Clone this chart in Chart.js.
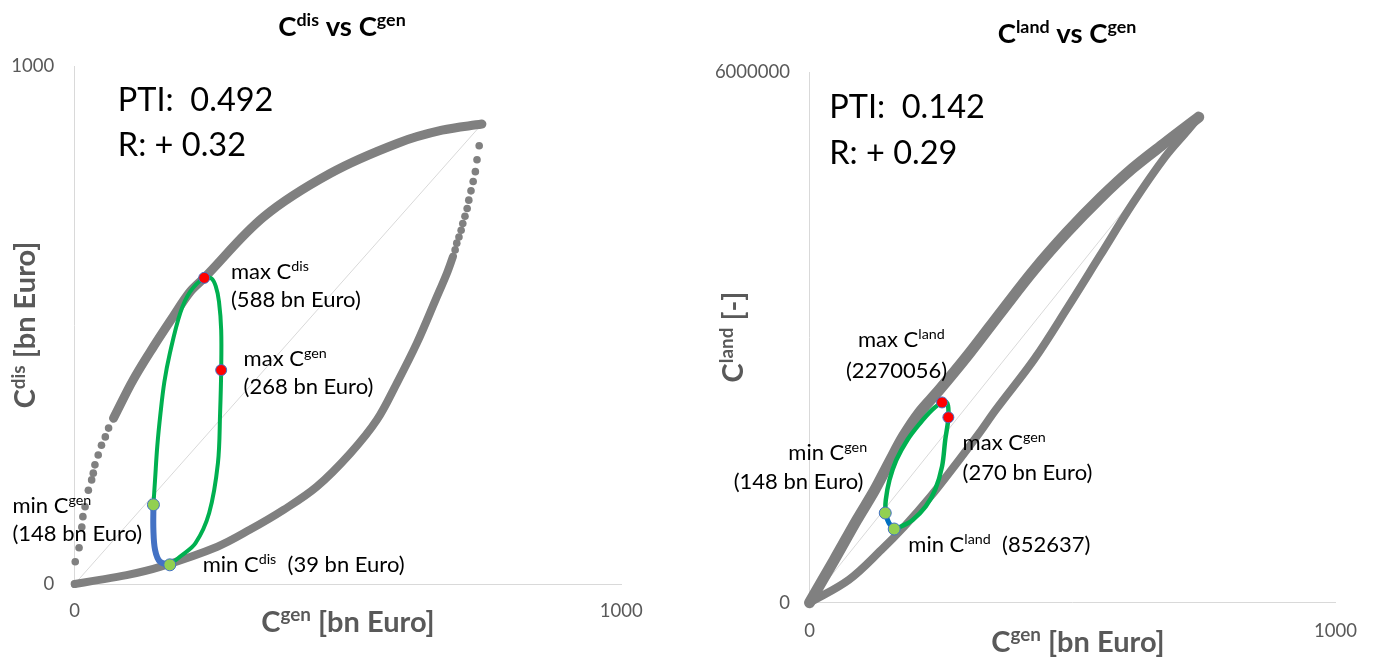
<!DOCTYPE html>
<html>
<head>
<meta charset="utf-8">
<script src="https://cdn.jsdelivr.net/npm/chart.js@4"></script>
<style>
  html, body { margin: 0; padding: 0; background: #fff; }
  #wrap { position: relative; width: 1374px; height: 658px; }
  canvas { position: absolute; top: 0; }
  #disChart { left: 0; }
  #landChart { left: 687px; }
</style>
</head>
<body>
<div id="wrap">
  <canvas id="disChart" width="687" height="658"></canvas>
  <canvas id="landChart" width="687" height="658"></canvas>
</div>
<script>
// tick labels
const genTicks = [0, 1000];
const disTicks = [0, 1000];
const landTicks = [0, 6000000];

// C_dis vs C_gen (both bn Euro)
const disUpperDots = [[0,0],[1,43],[8,70],[13,110],[15,130],[19,149],[25,181],[31,201],[34,214],[37,230],[43,249],[49,268],[56,284],[62,301],[71,320]];
const disUpperArc = [[71,320],[107,394],[144,458],[180,516],[211,564],[237,591],[346,709],[468,793],[591,851],[672,876],[745,888]];
const disLowerArc = [[0,0],[34,6],[95,17],[156,33],[261,72],[321,105],[382,143],[443,188],[504,252],[553,317],[589,387],[626,465],[660,548],[681,600],[692,632]];
const disLowerDots = [[696,645],[699,658],[703,670],[707,683],[710,696],[714,710],[718,725],[721,741],[725,759],[729,777],[733,796],[736,819],[740,846]];
const disDiag = [[0,0],[745,888]];
const disLoop = [[144,153],[147,201],[151,265],[157,330],[164,390],[174,445],[193,523],[211,564],[237,591],[250,590],[258,575],[264,545],[268,490],[268,413],[266,330],[262,233],[246,137],[221,79],[193,53],[174,37]];
const disTail = [[144,153],[144,104],[147,66],[156,43],[174,37]];
const disMax = [[237,591],[268,413]];
const disMin = [[144,153],[174,37]];

// C_land vs C_gen
const landUpperArc = [[0,0],[47,483000],[90,935000],[124,1274000],[152,1590000],[179,1885000],[209,2150000],[246,2400000],[304,2820000],[366,3300000],[428,3770000],[490,4190000],[552,4570000],[614,4910000],[676,5200000],[740,5490000]];
const landLowerArc = [[0,0],[75,260000],[137,600000],[180,860000],[230,1200000],[280,1580000],[323,1920000],[354,2180000],[428,2760000],[490,3330000],[552,3920000],[614,4510000],[676,5040000],[719,5340000],[740,5490000]];
const landDiag = [[0,0],[740,5490000]];
const landLoop = [[144,1014000],[145,1162000],[152,1387000],[165,1613000],[186,1840000],[210,2028000],[233,2180000],[252,2264000],[262,2254000],[264,2096000],[258,1840000],[252,1541000],[239,1278000],[221,1089000],[196,936000],[174,862000],[161,833000]];
const landTail = [[144,1014000],[151,901000],[161,833000]];
const landMax = [[252,2264000],[264,2096000]];
const landMin = [[144,1014000],[161,833000]];

const FONT = 'Lato';
const GRAY = '#808080';

const pts = a => a.map(([x, y]) => ({ x, y }));
const line = (data, color, width, tension) => ({
  data: pts(data), showLine: true, borderColor: color, borderWidth: width,
  pointRadius: 0, pointHoverRadius: 0, tension: tension == null ? 0.35 : tension,
  borderCapStyle: 'round', borderJoinStyle: 'round', fill: false, clip: false
});
const dots = (data, color, r, border) => ({
  data: pts(data), showLine: false, pointRadius: r, pointHoverRadius: r,
  backgroundColor: color, borderColor: border || color, borderWidth: border ? 1 : 0, clip: false
});

// text with superscripts: parts = [[text, sup?], ...]
function drawRich(ctx, parts, x, y, size, weight, color, align, rot) {
  ctx.save();
  ctx.translate(x, y);
  if (rot) ctx.rotate(rot);
  ctx.fillStyle = color;
  ctx.textBaseline = 'alphabetic';
  ctx.textAlign = 'left';
  const supSize = size * 0.65;
  const fontOf = sup => weight + ' ' + (sup ? supSize : size) + 'px ' + FONT;
  let w = 0;
  parts.forEach(([t, sup]) => { ctx.font = fontOf(sup); w += ctx.measureText(t).width; });
  let cx = align === 'center' ? -w / 2 : 0;
  parts.forEach(([t, sup]) => {
    ctx.font = fontOf(sup);
    ctx.fillText(t, cx, sup ? -size * 0.36 : 0);
    cx += ctx.measureText(t).width;
  });
  ctx.restore();
}

const textPlugin = {
  id: 'texts',
  afterDraw(chart, args, opts) {
    const ctx = chart.ctx;
    opts.items.forEach(it => drawRich(ctx, it.parts, it.x, it.y, it.size || 22,
      it.weight || 'normal', it.color || '#000', it.align || 'left', it.rot || 0));
  }
};

function axis(ticks, max, fitSize, vertical, pad) {
  return {
    type: 'linear', min: 0, max: max,
    afterBuildTicks: s => { s.ticks = ticks.map(v => ({ value: v })); },
    afterFit: s => { if (vertical) s.width = fitSize; else s.height = fitSize; },
    grid: { display: false, drawTicks: false },
    border: { display: true, color: '#d9d9d9', width: 1 },
    ticks: {
      color: '#595959', font: { family: FONT, size: 18.5 }, padding: pad,
      autoSkip: false, maxRotation: 0, callback: v => String(v)
    }
  };
}

function makeChart(id, datasets, scales, padding, items) {
  return new Chart(document.getElementById(id), {
    type: 'scatter',
    data: { datasets: datasets },
    options: {
      responsive: false,
      animation: false,
      layout: { padding: padding },
      scales: scales,
      plugins: {
        legend: { display: false },
        tooltip: { enabled: false },
        texts: { items: items }
      }
    },
    plugins: [textPlugin]
  });
}

makeChart('disChart', [
  dots(disMax, '#ff0000', 5.5, '#4472c4'),
  dots(disMin, '#92d050', 6, '#4472c4'),
  line(disLoop, '#00b050', 4),
  line(disTail, '#4472c4', 6),
  dots(disUpperDots, GRAY, 3.8),
  line(disUpperArc, GRAY, 9),
  line(disLowerArc, GRAY, 8),
  dots(disLowerDots, GRAY, 3.8),
  line(disDiag, '#d9d9d9', 1, 0)
], {
  x: axis(genTicks, 1000, 74, false, 16),
  y: axis(disTicks, 1000, 74.7, true, 20.5)
}, { left: 0, top: 66, right: 65.7, bottom: 0 }, [
  { parts: [['C'], ['dis', 1], [' vs C'], ['gen', 1]], x: 342, y: 36, size: 27.5, weight: 'bold', align: 'center' },
  { parts: [['C'], ['gen', 1], [' [bn Euro]']], x: 348, y: 631.7, size: 29, weight: 'bold', color: '#595959', align: 'center' },
  { parts: [['C'], ['dis', 1], [' [bn Euro]']], x: 35, y: 325, size: 29, weight: 'bold', color: '#595959', align: 'center', rot: -Math.PI / 2 },
  { parts: [['PTI:  0.492']], x: 117.8, y: 110.7, size: 32.5 },
  { parts: [['R: + 0.32']], x: 117.8, y: 156, size: 32.5 },
  { parts: [['max C'], ['dis', 1]], x: 231, y: 279 },
  { parts: [['(588 bn Euro)']], x: 231, y: 307 },
  { parts: [['max C'], ['gen', 1]], x: 243.6, y: 366 },
  { parts: [['(268 bn Euro)']], x: 243.6, y: 394 },
  { parts: [['min C'], ['gen', 1]], x: 12.4, y: 512.7 },
  { parts: [['(148 bn Euro)']], x: 12.4, y: 540.7 },
  { parts: [['min C'], ['dis', 1], ['  (39 bn Euro)']], x: 202.7, y: 572.3 }
]);

makeChart('landChart', [
  dots(landMax, '#ff0000', 5.5, '#4472c4'),
  dots(landMin, '#92d050', 6, '#4472c4'),
  line(landLoop, '#00b050', 4.5),
  line(landTail, '#0070c0', 5),
  line(landUpperArc, GRAY, 11),
  line(landLowerArc, GRAY, 8),
  line(landDiag, '#d9d9d9', 1, 0)
], {
  x: axis(genTicks, 1000, 55.3, false, 17),
  y: axis(landTicks, 6000000, 122.5, true, 19.5)
}, { left: 0, top: 72, right: 26, bottom: 0 }, [
  { parts: [['C'], ['land', 1], [' vs C'], ['gen', 1]], x: 380, y: 42.7, size: 27.5, weight: 'bold', align: 'center' },
  { parts: [['C'], ['gen', 1], [' [bn Euro]']], x: 391, y: 651.7, size: 29, weight: 'bold', color: '#595959', align: 'center' },
  { parts: [['C'], ['land', 1], [' [-]']], x: 56.3, y: 337, size: 29, weight: 'bold', color: '#595959', align: 'center', rot: -Math.PI / 2 },
  { parts: [['PTI:  0.142']], x: 142.2, y: 118.3, size: 32.5 },
  { parts: [['R: + 0.29']], x: 142.2, y: 164.3, size: 32.5 },
  { parts: [['max C'], ['land', 1]], x: 171, y: 347.3 },
  { parts: [['(2270056)']], x: 159, y: 378 },
  { parts: [['min C'], ['gen', 1]], x: 101.3, y: 460 },
  { parts: [['(148 bn Euro)']], x: 46.7, y: 489 },
  { parts: [['max C'], ['gen', 1]], x: 275.6, y: 450 },
  { parts: [['(270 bn Euro)']], x: 275.6, y: 480 },
  { parts: [['min C'], ['land', 1], ['  (852637)']], x: 221.3, y: 551.7 }
]);
</script>
</body>
</html>
